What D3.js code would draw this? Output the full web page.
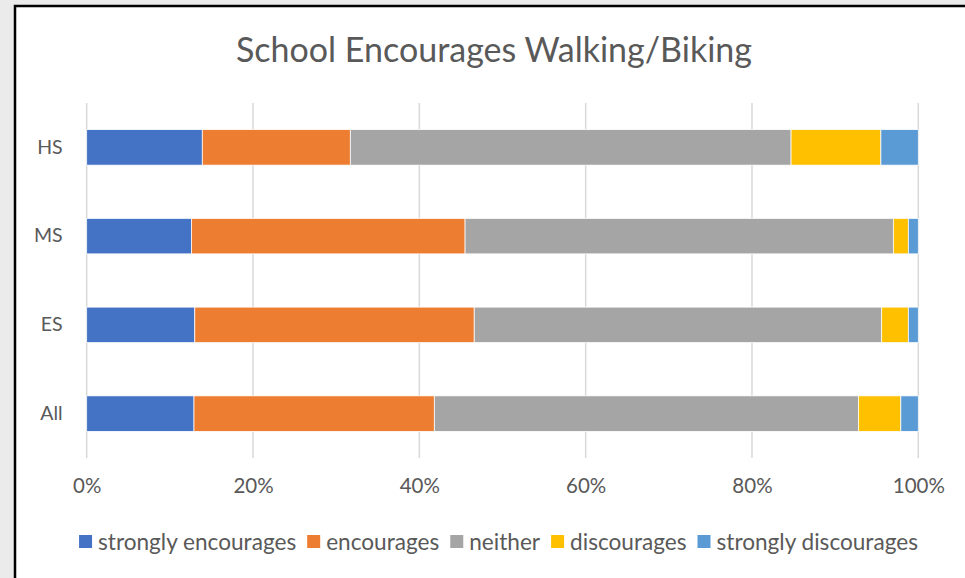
<!DOCTYPE html>
<html>
<head>
<meta charset="utf-8">
<script src="https://cdn.jsdelivr.net/npm/d3@7"></script>
<style>
  html, body { margin: 0; padding: 0; background: #ebebeb; }
  svg { display: block; }
  text { font-family: Lato, "Open Sans", sans-serif; fill: #595959; }
</style>
</head>
<body>
<svg id="chart" width="965" height="578"></svg>
<script>
// categories, top to bottom
const schools = ["HS", "MS", "ES", "All"];
const responses = ["strongly encourages", "encourages", "neither", "discourages", "strongly discourages"];
const colors = ["#4472c4", "#ed7d31", "#a5a5a5", "#ffc000", "#5b9bd5"];

// percent of answers, per school (same order as schools)
const stronglyEncourages = [13.9, 12.6, 13.0, 12.9];
const encourages = [17.8, 32.9, 33.6, 28.9];
const neither = [53.0, 51.5, 49.0, 51.0];
const discourages = [10.8, 1.8, 3.2, 5.1];
const stronglyDiscourages = [4.5, 1.2, 1.2, 2.1];

const xTicks = [0, 0.2, 0.4, 0.6, 0.8, 1];

const series = [stronglyEncourages, encourages, neither, discourages, stronglyDiscourages];
const rows = schools.map((s, i) => {
  const r = { school: s };
  responses.forEach((k, j) => { r[k] = series[j][i]; });
  return r;
});

const svg = d3.select("#chart");

// white chart area with the black frame on left and top
svg.append("rect")
  .attr("x", 14).attr("y", 5)
  .attr("width", 965).attr("height", 600)
  .attr("fill", "#fff");
svg.append("path")
  .attr("d", "M15,600 V6 H965")
  .attr("fill", "none")
  .attr("stroke", "#000")
  .attr("stroke-width", 2.5);

svg.append("text")
  .attr("x", 494)
  .attr("y", 62)
  .attr("text-anchor", "middle")
  .style("font-size", "34px")
  .text("School Encourages Walking/Biking");

const x = d3.scaleLinear().domain([0, 1]).range([86.7, 918.3]);
const y = d3.scaleBand().domain(schools).range([103, 458]).paddingInner(0.6).paddingOuter(0.3);

// gridlines
svg.append("g")
  .selectAll("line")
  .data(xTicks)
  .join("line")
  .attr("x1", d => x(d)).attr("x2", d => x(d))
  .attr("y1", 103).attr("y2", 458)
  .attr("stroke", "#d9d9d9")
  .attr("stroke-width", 1.5);

// stacked bars (values are percents, stack totals 100)
const stacked = d3.stack().keys(responses)(rows);

svg.append("g")
  .selectAll("g")
  .data(stacked)
  .join("g")
  .attr("fill", (d, i) => colors[i])
  .selectAll("rect")
  .data(d => d)
  .join("rect")
  .attr("x", d => x(d[0] / 100))
  .attr("width", d => x(d[1] / 100) - x(d[0] / 100))
  .attr("y", d => y(d.data.school))
  .attr("height", y.bandwidth())
  .attr("stroke", "#fff")
  .attr("stroke-width", 0.75);

// x axis labels
const xAxis = svg.append("g")
  .attr("transform", "translate(0,478)")
  .call(d3.axisBottom(x).tickValues(xTicks).tickFormat(d3.format(".0%")).tickSize(0).tickPadding(0));
xAxis.select(".domain").remove();
xAxis.selectAll("text")
  .attr("dy", "0.71em")
  .style("font-family", "Lato, 'Open Sans', sans-serif")
  .style("font-size", "20.5px")
  .attr("fill", "#595959");

// category labels
const yAxis = svg.append("g")
  .attr("transform", "translate(86.7,0)")
  .call(d3.axisLeft(y).tickSize(0).tickPadding(24));
yAxis.select(".domain").remove();
yAxis.selectAll("text")
  .style("font-family", "Lato, 'Open Sans', sans-serif")
  .style("font-size", "19.5px")
  .attr("fill", "#595959");

// legend, centered
const legend = svg.append("g").attr("transform", "translate(0,542)");
const items = legend.selectAll("g")
  .data(responses)
  .join("g");
items.append("rect")
  .attr("width", 13).attr("height", 13)
  .attr("y", -7)
  .attr("fill", (d, i) => colors[i]);
items.append("text")
  .attr("x", 19)
  .attr("dy", "0.35em")
  .style("font-size", "22.6px")
  .text(d => d);

let pos = 0;
const offsets = [];
items.each(function () {
  const w = 19 + d3.select(this).select("text").node().getComputedTextLength();
  offsets.push(pos);
  pos += w + 11;
});
const total = pos - 11;
const start = 498.5 - total / 2;
items.attr("transform", (d, i) => `translate(${start + offsets[i]},0)`);
</script>
</body>
</html>
